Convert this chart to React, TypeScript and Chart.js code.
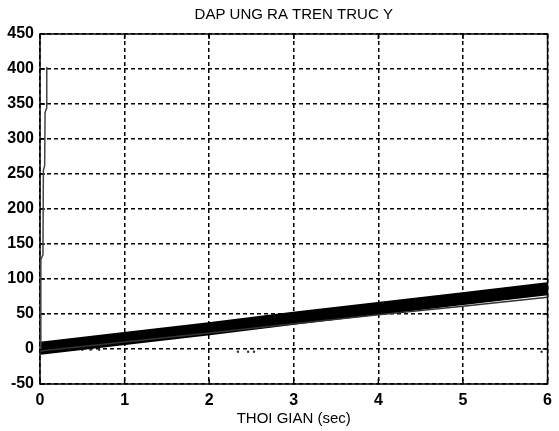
import React, { useEffect, useRef } from "react";
import { Chart, registerables } from "chart.js";

Chart.register(...registerables);

const TITLE = "DAP UNG RA TREN TRUC Y";
const X_TITLE = "THOI GIAN (sec)";
const xTicks = [0, 1, 2, 3, 4, 5, 6];
const yTicks = [-50, 0, 50, 100, 150, 200, 250, 300, 350, 400, 450];

// main thick response band
const bandX = [0, 1, 2, 3, 4, 5, 6];
const bandY = [1, 15, 29, 44, 58, 72, 86];
// thin lower trace
const lowerX = [0, 1, 2, 3, 4, 5, 6];
const lowerY = [-3, 10, 23, 36, 49, 61, 74];
// initial spike near t = 0
const spikeX = [0.01, 0.01, 0.035, 0.04, 0.055, 0.06, 0.08, 0.08];
const spikeY = [0, 128, 135, 255, 262, 338, 345, 403];
// stray marks
const dotX = [0.4, 0.5, 0.6, 0.7, 2.34, 2.46, 2.53, 5.93];
const dotY = [-1, -1, -1, -1, -4, -4, -4, -4];

const FONT = "'Liberation Sans', Arial, Helvetica, sans-serif";

const framePlugin = {
  id: "frame",
  beforeDatasetsDraw(chart: any) {
    const { ctx, chartArea } = chart;
    const { left, right, top, bottom } = chartArea;
    ctx.save();
    ctx.strokeStyle = "#000";
    ctx.lineWidth = 1.5;
    ctx.setLineDash([]);
    ctx.strokeRect(left, top, right - left, bottom - top);
    const xs = chart.scales.x;
    const ys = chart.scales.y;
    ctx.beginPath();
    xTicks.forEach((v) => {
      const px = xs.getPixelForValue(v);
      ctx.moveTo(px, bottom);
      ctx.lineTo(px, bottom - 5);
      ctx.moveTo(px, top);
      ctx.lineTo(px, top + 5);
    });
    yTicks.forEach((v) => {
      const py = ys.getPixelForValue(v);
      ctx.moveTo(left, py);
      ctx.lineTo(left + 5, py);
      ctx.moveTo(right, py);
      ctx.lineTo(right - 5, py);
    });
    ctx.stroke();
    ctx.restore();
  },
  afterDraw(chart: any) {
    const { ctx, chartArea } = chart;
    const cx = (chartArea.left + chartArea.right) / 2;
    ctx.save();
    ctx.fillStyle = "#000";
    ctx.textAlign = "center";
    ctx.textBaseline = "middle";
    ctx.font = `15px ${FONT}`;
    ctx.fillText(TITLE, cx, 15);
    ctx.fillText(X_TITLE, cx, 419);
    ctx.restore();
  },
};

export default function App() {
  const ref = useRef<HTMLCanvasElement>(null);
  useEffect(() => {
    if (!ref.current) return;
    const chart = new Chart(ref.current, {
      type: "line",
      data: {
        datasets: [
          {
            label: "spike",
            data: spikeX.map((x, i) => ({ x, y: spikeY[i] })),
            borderColor: "#444",
            borderWidth: 1.5,
            pointRadius: 0,
            tension: 0,
          },
          {
            label: "lower",
            data: lowerX.map((x, i) => ({ x, y: lowerY[i] })),
            borderColor: "#333",
            borderWidth: 1.5,
            pointRadius: 0,
            tension: 0,
          },
          {
            label: "band",
            data: bandX.map((x, i) => ({ x, y: bandY[i] })),
            borderColor: "#000",
            borderWidth: 13,
            borderCapStyle: "butt",
            pointRadius: 0,
            tension: 0,
          },
          {
            label: "dots",
            data: dotX.map((x, i) => ({ x, y: dotY[i] })),
            showLine: false,
            pointRadius: 1.2,
            pointBackgroundColor: "#333",
            pointBorderWidth: 0,
          },
        ],
      },
      options: {
        responsive: false,
        animation: false,
        layout: { padding: { top: 34, right: 7, left: 0, bottom: 0 } },
        plugins: { legend: { display: false }, tooltip: { enabled: false }, title: { display: false } },
        scales: {
          x: {
            type: "linear",
            min: 0,
            max: 6,
            afterFit: (a: any) => { a.height = 47; },
            afterBuildTicks: (a: any) => { a.ticks = xTicks.map((v) => ({ value: v })); },
            border: { display: false, dash: [4, 3] },
            grid: {
              color: "#000",
              lineWidth: 1.5,
              drawTicks: false,
            },
            ticks: {
              color: "#000",
              padding: 7,
              font: { family: FONT, size: 16, weight: "bold" },
              maxRotation: 0,
            },
          },
          y: {
            type: "linear",
            min: -50,
            max: 450,
            afterFit: (a: any) => { a.width = 40; },
            afterBuildTicks: (a: any) => { a.ticks = yTicks.map((v) => ({ value: v })); },
            border: { display: false, dash: [4, 3] },
            grid: {
              color: "#000",
              lineWidth: 1.5,
              drawTicks: false,
            },
            ticks: {
              color: "#000",
              padding: 6,
              font: { family: FONT, size: 16, weight: "bold" },
            },
          },
        },
      },
      plugins: [framePlugin],
    } as any);
    return () => chart.destroy();
  }, []);
  return (
    <div style={{ position: "fixed", left: 0, top: 0, width: 559, height: 431, background: "#fff" }}>
      <canvas ref={ref} width={559} height={431} />
    </div>
  );
}
